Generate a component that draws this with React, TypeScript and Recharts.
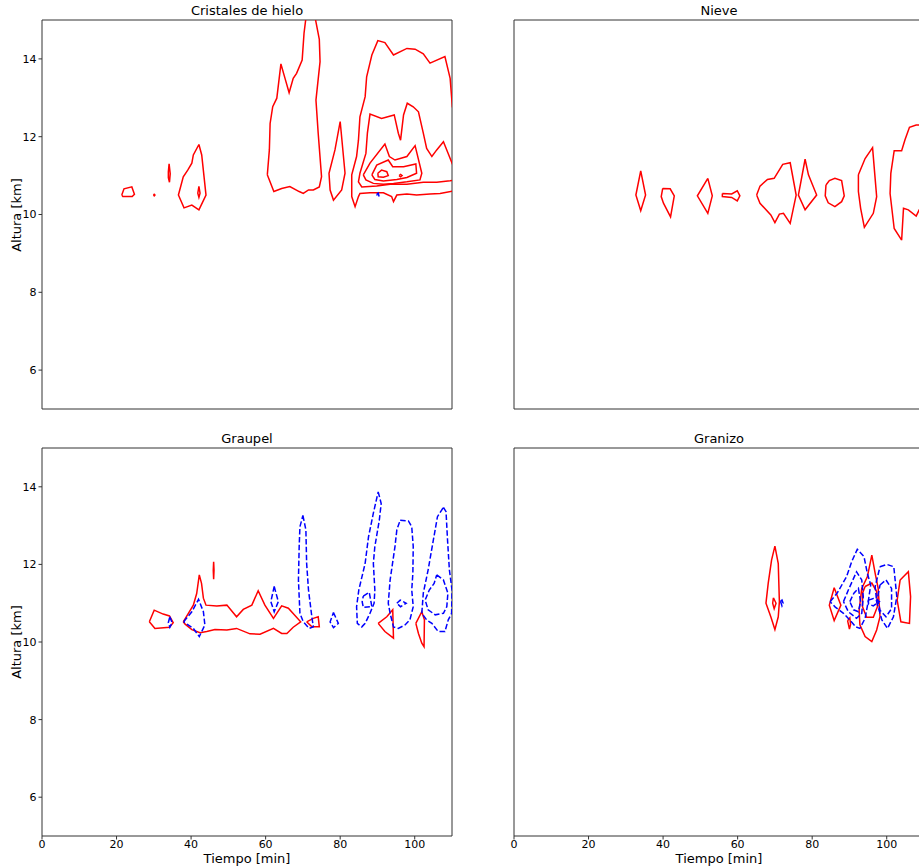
import { LineChart, Line, XAxis, YAxis, ReferenceArea } from "recharts";

type Pt = [number, number];

const xTicks = [0, 20, 40, 60, 80, 100];
const yTicks = [6, 8, 10, 12, 14];

// Cristales de hielo
const hieloA: Pt[] = [[21.4, 10.5], [22, 10.66], [24.1, 10.71], [24.8, 10.52], [24.2, 10.46], [21.7, 10.46]];
const hieloB: Pt[] = [[29.9, 10.5], [30.1, 10.52], [30.3, 10.5], [30.1, 10.48]];
const hieloC: Pt[] = [[34.1, 11.3], [34.4, 11.05], [34.2, 10.83], [33.9, 10.95], [33.9, 11.1]];
const hieloD: Pt[] = [[42.1, 11.8], [42.85, 11.53], [44.0, 10.5], [42.1, 10.12], [40.2, 10.24], [38.1, 10.17], [36.6, 10.5], [37.9, 10.97], [39.1, 11.14], [40.2, 11.32], [40.6, 11.53]];
const hieloE: Pt[] = [[42.1, 10.72], [42.4, 10.55], [42.1, 10.44], [41.8, 10.55]];
const hieloF: Pt[] = [[60.45, 11.02], [61.0, 11.66], [61.2, 12.34], [61.9, 12.77], [63.0, 12.99], [64.1, 13.87], [65.2, 13.5], [66.3, 13.13], [67.4, 13.5], [68.3, 13.63], [69.8, 13.97], [70.3, 14.66], [71.0, 15.2], [73.0, 15.2], [74.4, 14.5], [74.6, 13.93], [73.5, 12.94], [74.1, 12.09], [75.0, 10.97], [74.4, 10.71], [72.8, 10.63], [71.5, 10.63], [70.1, 10.54], [69.0, 10.59], [66.5, 10.72], [64.3, 10.67], [62.2, 10.59]];
const hieloG: Pt[] = [[80.0, 12.39], [81.3, 11.06], [80.4, 10.63], [78.2, 10.37], [77.3, 10.63], [77.0, 11.06], [78.6, 11.66]];
const hieloH: Pt[] = [[111, 12.77], [110.1, 12.77], [109.5, 13.5], [108.1, 14.06], [104.1, 13.89], [102.3, 14.13], [100.1, 14.25], [97.9, 14.27], [94.3, 14.1], [92.0, 14.42], [90.1, 14.47], [88.5, 14.1], [87.1, 13.54], [86.7, 13.03], [85.3, 12.51], [84.9, 11.91], [84.4, 11.49], [83.1, 11.02], [83.1, 10.46], [84.0, 10.2], [84.9, 10.46], [85.3, 10.54], [88.0, 10.56], [91.6, 10.56], [93.8, 10.46], [94.3, 10.33], [95.2, 10.5], [97.9, 10.53], [100.5, 10.5], [104.1, 10.53], [106.8, 10.54], [110.1, 10.6], [111, 10.6]];
const hieloI: Pt[] = [[111, 11.3], [110.1, 11.3], [109.0, 11.56], [107.7, 11.87], [105.9, 11.66], [104.6, 11.49], [103.2, 11.7], [102.3, 12.09], [101.0, 12.64], [99.6, 12.77], [98.0, 12.86], [97.0, 12.56], [96.2, 11.91], [95.6, 12.09], [94.5, 12.56], [91.1, 12.47], [88.0, 12.58], [87.3, 12.09], [86.9, 11.57], [85.3, 11.06], [84.9, 10.84], [85.8, 10.71], [89.8, 10.73], [93.4, 10.78], [97.9, 10.78], [102.3, 10.83], [105.9, 10.83], [109.5, 10.87], [111, 10.89]];
const hieloJ: Pt[] = [[86.2, 11.02], [88.0, 11.32], [92.0, 11.81], [93.2, 11.49], [94.7, 11.4], [97.9, 11.49], [100.1, 11.77], [101.9, 11.06], [101.4, 10.89], [97.9, 10.84], [94.3, 10.8], [91.6, 10.78], [88.9, 10.8], [86.9, 10.89]];
const hieloK: Pt[] = [[88.5, 11.02], [89.8, 11.27], [92.9, 11.4], [94.1, 11.23], [97.0, 11.23], [100.3, 11.3], [100.5, 11.06], [97.9, 10.95], [95.2, 10.9], [91.6, 10.86], [89.3, 10.9]];
const hieloL: Pt[] = [[90.1, 11.06], [91.1, 11.14], [92.5, 11.1], [92.9, 11.0], [91.6, 10.96], [90.2, 10.97]];
const hieloM: Pt[] = [[95.8, 11.0], [96.2, 11.03], [96.6, 11.0], [96.2, 10.97]];
const hieloBlue: Pt[] = [[89.8, 10.52], [90.2, 10.55], [90.4, 10.48], [90.1, 10.45]];

// Nieve
const nieveA: Pt[] = [[34.0, 11.12], [35.3, 10.5], [34.0, 10.1], [32.7, 10.5]];
const nieveB: Pt[] = [[39.9, 10.67], [41.9, 10.66], [43.0, 10.48], [42.0, 9.94], [40.1, 10.29], [39.5, 10.46]];
const nieveC: Pt[] = [[52.0, 10.93], [53.2, 10.48], [52.0, 10.03], [49.2, 10.48]];
const nieveD: Pt[] = [[55.9, 10.54], [58.4, 10.53], [59.9, 10.61], [60.6, 10.48], [59.9, 10.35], [58.4, 10.44], [55.9, 10.46]];
const nieveE: Pt[] = [[65.1, 10.5], [66.0, 10.73], [68.0, 10.9], [69.8, 10.93], [72.1, 11.29], [74.1, 11.33], [75.7, 10.5], [74.1, 9.77], [72.3, 10.03], [71.2, 10.01], [70.0, 9.79], [68.9, 9.99], [66.0, 10.29]];
const nieveF: Pt[] = [[78.1, 11.42], [79.0, 11.02], [81.2, 10.5], [78.1, 10.12], [76.3, 10.5]];
const nieveG: Pt[] = [[83.7, 10.76], [84.6, 10.87], [86.1, 10.93], [87.9, 10.87], [88.6, 10.48], [87.9, 10.33], [86.1, 10.2], [84.3, 10.3], [83.5, 10.48]];
const nieveH: Pt[] = [[92.4, 11.02], [94.2, 11.44], [96.2, 11.72], [96.7, 11.14], [97.3, 10.46], [96.4, 10.03], [94.0, 9.67], [93.0, 10.16], [92.4, 10.59]];
const nieveI: Pt[] = [[104.0, 9.34], [102.0, 9.64], [100.9, 10.54], [101.1, 11.06], [102.0, 11.64], [104.0, 11.64], [104.9, 11.92], [106.1, 12.24], [107.9, 12.3], [109.3, 12.3], [109.8, 11.0], [109.3, 10.2], [108.7, 10.12], [107.9, 9.96], [105.8, 10.12], [104.5, 10.16]];

// Graupel
const grRedA: Pt[] = [[28.8, 10.52], [30.1, 10.82], [32.5, 10.72], [34.2, 10.67], [35.2, 10.5], [34.2, 10.38], [30.3, 10.35]];
const grRedB: Pt[] = [[37.9, 10.52], [40.6, 10.95], [41.5, 11.25], [42.2, 11.73], [42.8, 11.51], [43.3, 11.13], [44.0, 10.95], [46.9, 10.93], [49.6, 10.95], [52.2, 10.65], [54.0, 10.84], [56.3, 10.95], [58.0, 11.32], [59.8, 10.95], [62.1, 10.61], [64.3, 10.93], [66.1, 10.87], [69.4, 10.52], [67.4, 10.38], [65.7, 10.22], [64.3, 10.22], [62.1, 10.35], [58.5, 10.2], [55.8, 10.21], [52.2, 10.35], [49.6, 10.31], [46.4, 10.32], [44.2, 10.27], [42.4, 10.24], [40.2, 10.32], [38.4, 10.46]];
const grRedC: Pt[] = [[46.05, 12.07], [46.15, 11.85], [46.05, 11.62], [45.95, 11.85]];
const grRedD: Pt[] = [[71.0, 10.52], [72.8, 10.61], [74.1, 10.65], [74.4, 10.39], [72.4, 10.39]];
const grRedE: Pt[] = [[90.2, 10.48], [92.5, 10.65], [94.1, 10.83], [94.3, 10.1], [92.0, 10.27]];
const grRedF: Pt[] = [[100.3, 10.48], [101.9, 10.78], [102.6, 10.57], [102.5, 9.88], [101.9, 9.97], [101.0, 10.22]];
const grBlueA: Pt[] = [[34.3, 10.65], [34.9, 10.5], [34.3, 10.38], [33.9, 10.5]];
const grBlueB: Pt[] = [[38.0, 10.52], [40.2, 10.78], [42.0, 11.1], [43.3, 10.78], [43.7, 10.44], [42.2, 10.14], [40.6, 10.35]];
const grBlueC: Pt[] = [[62.3, 11.43], [63.4, 11.04], [62.3, 10.78], [61.4, 11.04]];
const grBlueD: Pt[] = [[70.0, 13.26], [70.8, 12.89], [71.0, 12.03], [71.5, 11.34], [72.4, 10.65], [72.8, 10.39], [71.7, 10.35], [70.1, 10.52], [69.2, 10.74], [68.8, 11.6], [69.0, 12.46], [69.2, 12.97]];
const grBlueE: Pt[] = [[78.2, 10.76], [79.5, 10.48], [78.2, 10.37], [77.3, 10.52]];
const grBlueF: Pt[] = [[90.2, 13.87], [91.0, 13.57], [90.5, 13.14], [89.3, 12.46], [88.9, 12.03], [89.3, 11.34], [89.1, 11.0], [88.0, 10.74], [86.7, 10.48], [85.8, 10.39], [84.6, 10.48], [84.4, 10.91], [85.0, 11.34], [86.7, 12.03], [87.6, 12.71], [88.9, 13.32]];
const grBlueG: Pt[] = [[86.2, 11.18], [87.8, 11.28], [88.5, 10.91], [86.2, 10.89], [85.9, 11.04]];
const grBlueH: Pt[] = [[96.1, 13.14], [98.3, 13.12], [99.2, 12.97], [99.6, 12.46], [99.5, 11.77], [99.2, 11.34], [99.6, 10.91], [98.7, 10.57], [97.4, 10.44], [95.6, 10.35], [94.3, 10.39], [93.4, 10.74], [92.9, 11.0], [93.4, 11.6], [94.7, 12.46], [95.2, 12.89]];
const grBlueI: Pt[] = [[95.2, 11.0], [96.1, 11.08], [97.7, 11.0], [96.2, 10.91]];
const grBlueJ: Pt[] = [[107.7, 13.47], [108.4, 13.36], [108.8, 12.63], [109.3, 11.86], [110.0, 11.34], [109.9, 10.74], [109.0, 10.57], [108.1, 10.27], [106.3, 10.27], [104.6, 10.48], [103.2, 10.57], [101.9, 10.74], [102.3, 11.26], [103.6, 11.86], [105.0, 12.63], [106.1, 13.23]];
const grBlueK: Pt[] = [[105.9, 11.73], [107.7, 11.6], [108.9, 11.26], [108.6, 10.91], [107.7, 10.74], [105.5, 10.7], [103.6, 10.83], [102.8, 11.08], [103.9, 11.34], [105.2, 11.51]];

// Granizo
const gzRedA: Pt[] = [[70.0, 12.47], [70.9, 12.02], [71.2, 11.04], [70.9, 10.65], [70.0, 10.32], [68.9, 10.65], [67.6, 11.0], [68.2, 11.51], [69.1, 12.11]];
const gzRedB: Pt[] = [[69.6, 11.14], [70.3, 11.0], [69.8, 10.86], [69.4, 11.0]];
const gzRedC: Pt[] = [[85.9, 11.4], [87.7, 10.95], [85.9, 10.55], [84.6, 10.95]];
const gzRedD: Pt[] = [[89.5, 10.55], [90.1, 10.62], [90.3, 10.45], [90.0, 10.33]];
const gzRedE: Pt[] = [[96.0, 12.24], [96.9, 11.77], [97.7, 11.38], [98.2, 10.65], [97.3, 10.31], [96.0, 10.01], [94.2, 10.14], [92.8, 10.44], [92.6, 10.82], [93.3, 11.38], [94.8, 11.68]];
const gzRedF: Pt[] = [[94.2, 11.43], [96.0, 11.52], [97.3, 11.3], [97.5, 10.91], [96.4, 10.64], [94.6, 10.64], [93.5, 10.91], [93.5, 11.26]];
const gzRedG: Pt[] = [[103.6, 11.6], [105.8, 11.81], [106.4, 11.17], [106.1, 10.48], [103.8, 10.52], [102.8, 11.08]];
const gzBlueA: Pt[] = [[71.5, 11.05], [71.9, 11.08], [72.2, 11.0], [71.9, 10.93]];
const gzBlueB: Pt[] = [[84.8, 11.04], [86.7, 11.26], [89.2, 11.68], [90.6, 12.07], [92.1, 12.39], [93.9, 12.2], [94.8, 11.77], [95.7, 11.47], [95.1, 11.08], [94.2, 10.61], [92.8, 10.35], [91.7, 10.39], [90.1, 10.57], [88.4, 10.74], [86.2, 10.9]];
const gzBlueC: Pt[] = [[88.4, 11.04], [89.7, 11.34], [91.9, 11.81], [93.3, 11.6], [93.7, 11.17], [93.3, 10.74], [91.9, 10.61], [89.7, 10.78]];
const gzBlueD: Pt[] = [[90.1, 11.04], [91.2, 11.26], [92.4, 11.38], [93.0, 11.04], [92.4, 10.78], [91.1, 10.83]];
const gzBlueE: Pt[] = [[98.2, 11.94], [100.0, 12.0], [101.9, 11.94], [102.7, 11.17], [101.8, 10.65], [100.2, 10.35], [98.7, 10.57], [97.3, 11.04], [96.9, 11.43]];
const gzBlueF: Pt[] = [[98.2, 11.47], [99.8, 11.6], [101.3, 11.38], [101.3, 10.86], [99.8, 10.65], [98.2, 10.82], [97.5, 11.12]];
const gzBlueG: Pt[] = [[95.1, 11.08], [96.4, 11.12], [98.0, 11.04], [96.4, 10.93], [95.1, 10.98]];

const hieloRed = [hieloA, hieloB, hieloC, hieloD, hieloE, hieloF, hieloG, hieloH, hieloI, hieloJ, hieloK, hieloL, hieloM];
const nieveRed = [nieveA, nieveB, nieveC, nieveD, nieveE, nieveF, nieveG, nieveH, nieveI];
const graupelRed = [grRedA, grRedB, grRedC, grRedD, grRedE, grRedF];
const graupelBlue = [grBlueA, grBlueB, grBlueC, grBlueD, grBlueE, grBlueF, grBlueG, grBlueH, grBlueI, grBlueJ, grBlueK];
const granizoRed = [gzRedA, gzRedB, gzRedC, gzRedD, gzRedE, gzRedF, gzRedG];
const granizoBlue = [gzBlueA, gzBlueB, gzBlueC, gzBlueD, gzBlueE, gzBlueF, gzBlueG];

const toLine = (c: Pt[]) => [...c, c[0]].map(([x, y]) => ({ x, y }));

type PanelProps = {
  title: string;
  red: Pt[][];
  blue: Pt[][];
  left: number;
  top: number;
  bottomRow: boolean;
  leftCol: boolean;
};

function Panel({ title, red, blue, left, top, bottomRow, leftCol }: PanelProps) {
  const plotH = bottomRow ? 388 : 389;
  const axisH = bottomRow ? 20 : 10;
  const plotLeft = left + 42;
  return (
    <>
      <div
        style={{
          position: "absolute",
          left: plotLeft,
          top: top + 4,
          width: 410,
          textAlign: "center",
          fontSize: 13,
          lineHeight: "14px",
        }}
      >
        {title}
      </div>
      {leftCol && (
        <div
          style={{
            position: "absolute",
            left: 17,
            top: top + 20 + plotH / 2,
            fontSize: 13,
            lineHeight: "14px",
            whiteSpace: "nowrap",
            transform: "translate(-50%, -50%) rotate(-90deg)",
          }}
        >
          Altura [km]
        </div>
      )}
      {bottomRow && (
        <div
          style={{
            position: "absolute",
            left: plotLeft + 205,
            top: 858,
            fontSize: 13,
            lineHeight: "13px",
            whiteSpace: "nowrap",
            transform: "translate(-50%, -50%)",
          }}
        >
          Tiempo [min]
        </div>
      )}
      <div style={{ position: "absolute", left, top }}>
        <LineChart width={460} height={20 + plotH + axisH} margin={{ top: 20, right: 8, left: 0, bottom: 0 }}>
          <XAxis
            type="number"
            dataKey="x"
            domain={[0, 110]}
            ticks={xTicks}
            allowDataOverflow
            axisLine={false}
            height={axisH}
            tickSize={3.5}
            tickMargin={1}
            tickLine={{ stroke: "#333" }}
            tick={bottomRow ? { fontSize: 11, fill: "#000" } : false}
          />
          <YAxis
            type="number"
            dataKey="y"
            domain={[5, 15]}
            ticks={yTicks}
            allowDataOverflow
            axisLine={false}
            width={42}
            tickSize={3.5}
            tickMargin={2}
            tickLine={{ stroke: "#333" }}
            tick={leftCol ? { fontSize: 11, fill: "#000" } : false}
          />
          {red.map((c, i) => (
            <Line
              key={"r" + i}
              data={toLine(c)}
              dataKey="y"
              type="linear"
              stroke="#ff0000"
              strokeWidth={1.5}
              dot={false}
              activeDot={false}
              isAnimationActive={false}
            />
          ))}
          {blue.map((c, i) => (
            <Line
              key={"b" + i}
              data={toLine(c)}
              dataKey="y"
              type="linear"
              stroke="#0000ff"
              strokeWidth={1.5}
              strokeDasharray="5.5 2.4"
              dot={false}
              activeDot={false}
              isAnimationActive={false}
            />
          ))}
          <ReferenceArea x1={0} x2={110} y1={5} y2={15} fill="none" stroke="#333" strokeWidth={1} ifOverflow="visible" />
        </LineChart>
      </div>
    </>
  );
}

export default function App() {
  return (
    <div
      style={{
        position: "absolute",
        left: 0,
        top: 0,
        width: 919,
        height: 866,
        overflow: "hidden",
        background: "#fff",
        fontFamily: "'DejaVu Sans', sans-serif",
      }}
    >
      <Panel title="Cristales de hielo" red={hieloRed} blue={[hieloBlue]} left={0} top={0} bottomRow={false} leftCol />
      <Panel title="Nieve" red={nieveRed} blue={[]} left={472} top={0} bottomRow={false} leftCol={false} />
      <Panel title="Graupel" red={graupelRed} blue={graupelBlue} left={0} top={428} bottomRow leftCol />
      <Panel title="Granizo" red={granizoRed} blue={granizoBlue} left={472} top={428} bottomRow leftCol={false} />
    </div>
  );
}
